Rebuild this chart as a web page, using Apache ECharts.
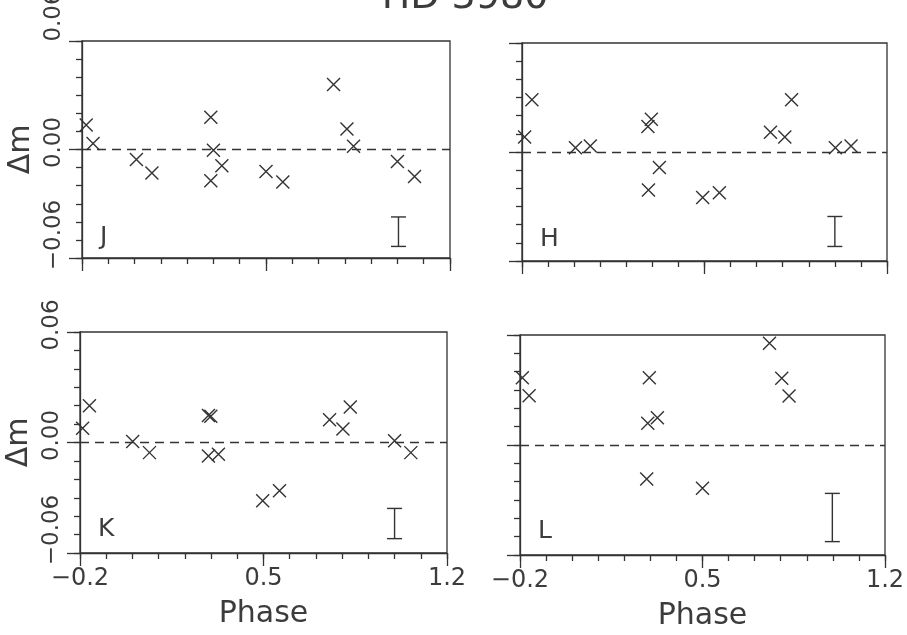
<!DOCTYPE html>
<html>
<head>
<meta charset="utf-8">
<script src="https://cdn.jsdelivr.net/npm/echarts@6/dist/echarts.min.js"></script>
<style>html,body{margin:0;padding:0;background:#fff}#c{width:907px;height:635px}</style>
</head>
<body>
<div id="c"></div>
<script>
// ---- data ----
const titleText = 'HD 3980';
const panelNames = ['J', 'H', 'K', 'L'];
const xTickLabels = [-0.2, 0.5, 1.2];
const yTickLabels = [-0.06, 0.0, 0.06];

const jPhase = [-0.184, -0.158, 0.007, 0.066, 0.290, 0.300, 0.290, 0.332, 0.500, 0.564, 0.757, 0.808, 0.833, 1.000, 1.065];
const jDm    = [0.0136, 0.0033, -0.0055, -0.0130, 0.0178, -0.0004, -0.0173, -0.0090, -0.0122, -0.0180, 0.0360, 0.0113, 0.0018, -0.0067, -0.0149];

const hPhase = [-0.190, -0.162, 0.005, 0.062, 0.296, 0.283, 0.327, 0.285, 0.493, 0.557, 0.753, 0.808, 0.834, 1.002, 1.062];
const hDm    = [0.0082, 0.0287, 0.0024, 0.0033, 0.0180, 0.0140, -0.0085, -0.0209, -0.0250, -0.0224, 0.0109, 0.0082, 0.0287, 0.0024, 0.0033];

const kPhase = [-0.190, -0.164, 0.001, 0.065, 0.290, 0.299, 0.290, 0.328, 0.497, 0.561, 0.752, 0.803, 0.831, 1.000, 1.062];
const kDm    = [0.0078, 0.0200, 0.0005, -0.0055, 0.0147, 0.0142, -0.0073, -0.0064, -0.0316, -0.0262, 0.0124, 0.0073, 0.0193, 0.0009, -0.0055];

const lPhase = [-0.191, -0.165, 0.296, 0.290, 0.327, 0.286, 0.500, 0.757, 0.804, 0.832];
const lDm    = [0.0367, 0.0269, 0.0367, 0.0118, 0.0149, -0.0185, -0.0236, 0.0555, 0.0364, 0.0267];

// error bars: [phase, low, high]
const jErr = [1.004, -0.0536, -0.0373];
const hErr = [1.000, -0.0520, -0.0355];
const kErr = [1.000, -0.0522, -0.0358];
const lErr = [0.998, -0.0527, -0.0264];

// ---- layout / style ----
const INK = '#333';
const TXT = '#3c3c3c';
const FONT = 'DejaVu Sans';
const grids = [
  {left: 82,  top: 41,  width: 368, height: 217},
  {left: 522, top: 43,  width: 365, height: 218},
  {left: 80,  top: 332, width: 367, height: 221},
  {left: 520, top: 335, width: 365, height: 220}
];
const panels = [
  {x: jPhase, y: jDm, err: jErr, showY: true,  showX: false, topPad: 50},
  {x: hPhase, y: hDm, err: hErr, showY: false, showX: false, topPad: 14},
  {x: kPhase, y: kDm, err: kErr, showY: true,  showX: true,  topPad: 14},
  {x: lPhase, y: lDm, err: lErr, showY: false, showX: true,  topPad: 14}
];
const fmtX = v => v.toFixed(1).replace('-', '\u2212');
const fmtY = v => (Math.abs(v) < 1e-9 ? 0 : v).toFixed(2).replace('-', '\u2212');
const yTxt = {color: TXT, fontFamily: FONT, fontSize: 23};

const xAxes = [], yAxes = [], series = [];
panels.forEach((p, i) => {
  // minor x axis with labels
  xAxes.push({
    type: 'value', gridIndex: i, min: -0.2, max: 1.2, interval: 0.1, position: 'bottom',
    axisLine: {show: true, onZero: false, lineStyle: {color: INK, width: 1.3}},
    axisTick: {show: true, inside: false, length: 6, lineStyle: {color: INK, width: 1.3}},
    splitLine: {show: false},
    axisLabel: {show: p.showX, customValues: xTickLabels, formatter: fmtX, margin: 14,
      color: TXT, fontFamily: FONT, fontSize: 24},
    name: p.showX ? 'Phase' : '', nameLocation: 'middle', nameGap: 46,
    nameTextStyle: {color: TXT, fontFamily: FONT, fontSize: 30}
  });
  // major x ticks
  xAxes.push({
    type: 'value', gridIndex: i, min: -0.2, max: 1.2, interval: 0.1, position: 'bottom',
    axisLine: {show: false, onZero: false}, splitLine: {show: false}, axisLabel: {show: false},
    axisTick: {show: true, length: 13, customValues: xTickLabels, lineStyle: {color: INK, width: 1.3}}
  });
  yAxes.push({
    type: 'value', gridIndex: i, min: -0.06, max: 0.06, interval: 0.01, position: 'left',
    axisLine: {show: true, onZero: false, lineStyle: {color: INK, width: 1.3}},
    axisTick: {show: true, length: 6, lineStyle: {color: INK, width: 1.3}},
    splitLine: {show: false},
    axisLabel: {show: p.showY, customValues: yTickLabels, rotate: 90, margin: 16,
      formatter: v => v < -0.01 ? '{m|' + fmtY(v) + '}' : (v > 0.01 ? '{t|' + fmtY(v) + '}' : '{z|' + fmtY(v) + '}'),
      rich: {
        m: Object.assign({padding: [0, 0, 0, 46]}, yTxt),
        z: Object.assign({padding: [0, 0, 0, 14]}, yTxt),
        t: Object.assign({padding: [0, 0, 0, p.topPad]}, yTxt)
      },
      color: TXT, fontFamily: FONT, fontSize: 23},
    name: p.showY ? '\u0394m' : '', nameLocation: 'middle', nameGap: 46, nameRotate: 90,
    nameTextStyle: {color: TXT, fontFamily: FONT, fontSize: 30}
  });
  yAxes.push({
    type: 'value', gridIndex: i, min: -0.06, max: 0.06, interval: 0.01, position: 'left',
    axisLine: {show: false, onZero: false}, splitLine: {show: false}, axisLabel: {show: false},
    axisTick: {show: true, length: 13, customValues: yTickLabels, lineStyle: {color: INK, width: 1.3}}
  });
  series.push({
    type: 'scatter', xAxisIndex: 2 * i, yAxisIndex: 2 * i,
    data: p.x.map((v, k) => [v, p.y[k]]),
    symbol: 'path://M0,0L10,10M10,0L0,10', symbolSize: 13,
    itemStyle: {color: 'none', borderColor: INK, borderWidth: 1.4, opacity: 1},
    clip: false, silent: true,
    markLine: {
      silent: true, symbol: ['none', 'none'], label: {show: false},
      lineStyle: {color: INK, width: 1.4, type: [9, 6]},
      data: [{yAxis: 0}]
    }
  });
  series.push({
    type: 'custom', xAxisIndex: 2 * i, yAxisIndex: 2 * i, silent: true,
    data: [p.err],
    renderItem: (params, api) => {
      const x = api.value(0), lo = api.value(1), hi = api.value(2);
      const a = api.coord([x, lo]), b = api.coord([x, hi]);
      const w = 7.5, st = {stroke: INK, lineWidth: 1.4};
      return {type: 'group', children: [
        {type: 'line', shape: {x1: a[0], y1: a[1], x2: b[0], y2: b[1]}, style: st},
        {type: 'line', shape: {x1: a[0] - w, y1: a[1], x2: a[0] + w, y2: a[1]}, style: st},
        {type: 'line', shape: {x1: b[0] - w, y1: b[1], x2: b[0] + w, y2: b[1]}, style: st}
      ]};
    }
  });
});

const letterPos = [[95, 220], [535, 222], [93, 512], [533, 514]];
const titles = [{
  text: titleText, left: 460, textAlign: 'center', top: -26,
  textStyle: {color: TXT, fontFamily: FONT, fontSize: 38, fontWeight: 'normal'}
}];
panelNames.forEach((n, i) => titles.push({
  text: n, left: letterPos[i][0], top: letterPos[i][1],
  textStyle: {color: TXT, fontFamily: FONT, fontSize: 25, fontWeight: 'normal'}
}));

const chart = echarts.init(document.getElementById('c'), null, {renderer: 'canvas'});
chart.setOption({
  animation: false,
  backgroundColor: '#fff',
  title: titles,
  grid: grids.map(g => Object.assign({show: true, borderColor: INK, borderWidth: 1.3, backgroundColor: 'transparent',
    containLabel: false, outerBoundsMode: 'none'}, g)),
  xAxis: xAxes,
  yAxis: yAxes,
  series: series
});
</script>
</body>
</html>
